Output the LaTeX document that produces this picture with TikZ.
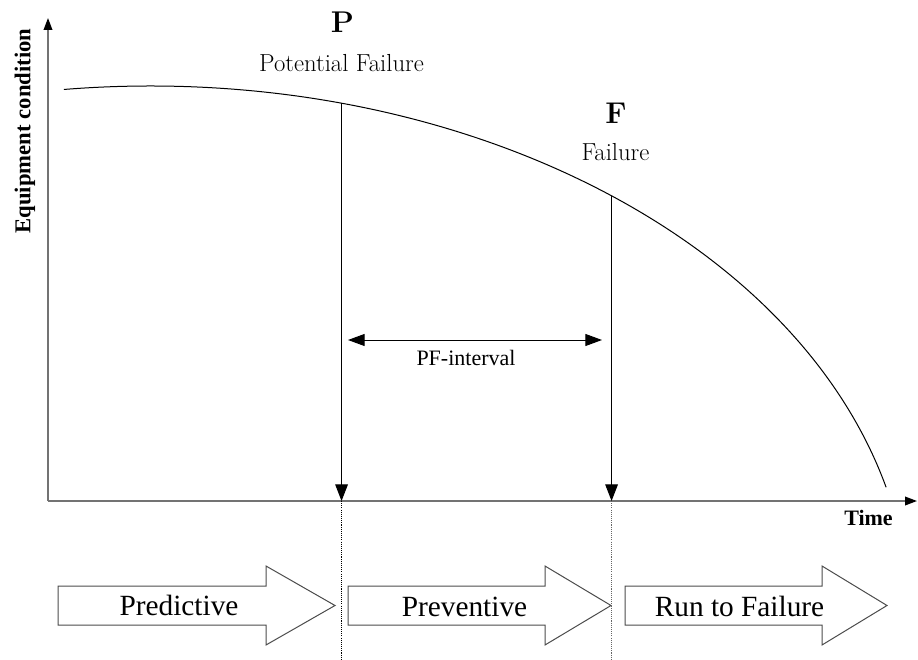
\documentclass[tikz,border=0pt]{standalone}
\usepackage{amsmath}
\usepackage{fontspec}
\usepackage{tikz}
\usetikzlibrary{arrows.meta,calc}
\newfontfamily\timesfont{Liberation Serif}

\begin{document}
\begin{tikzpicture}[x=0.75pt,y=0.75pt,yscale=-1,xscale=1,
    axisline/.style={draw=black!55, line width=1.1pt, -{Triangle[length=9pt,width=6.5pt,color=black]}},
    dropline/.style={line width=0.75pt, -{Triangle[length=12.5pt,width=9.5pt]}},
    pfline/.style={line width=0.75pt, {Triangle[length=12.5pt,width=9pt]}-{Triangle[length=12.5pt,width=9pt]}},
    guideline/.style={line width=0.6pt, dash pattern=on 0.8pt off 0.8pt},
    blockarrow/.style={draw=black!70, line width=0.75pt, fill=white},
    bigletter/.style={inner sep=0pt, anchor=base, font=\fontsize{22.5}{22.5}\selectfont\bfseries},
    pointname/.style={inner sep=0pt, anchor=base, font=\fontsize{18.5}{18.5}\selectfont},
    axisname/.style={inner sep=0pt, font=\timesfont\fontsize{17}{17}\selectfont\bfseries},
    phasename/.style={inner sep=0pt, anchor=base, font=\timesfont\fontsize{22}{22}\selectfont}]
    \useasboundingbox (0,0) rectangle (918,660);

    %Axes
    \coordinate (origin) at (48,501);
    \coordinate (ytop) at (48,18);
    \coordinate (xend) at (917,501);
    \draw[axisline] (origin) -- (ytop);
    \draw[axisline] (origin) -- (xend);

    %Condition curve (quarter of an ellipse)
    \coordinate (c) at (150,620);
    \draw[line width=0.75pt] ($(c)+(-96.5:760 and 534)$) arc[start angle=-96.5, end angle=-14.4, x radius=760, y radius=534];
    \coordinate (P) at ($(c)+(-75.4:760 and 534)$);
    \coordinate (F) at ($(c)+(-52.6:760 and 534)$);

    %Drop lines
    \draw[dropline] (P) -- (P |- origin);
    \draw[dropline] (F) -- (F |- origin);
    \coordinate (Pbot) at ($(P |- origin)+(0,160)$);
    \coordinate (Fbot) at ($(F |- origin)+(0,160)$);
    \draw[guideline] (P |- origin) -- (Pbot);
    \draw[guideline, black!60] (F |- origin) -- (Fbot);

    %PF interval
    \coordinate (pfL) at (348,340);
    \coordinate (pfR) at (602,340);
    \draw[pfline] (pfL) -- (pfR);

    %Phase arrows
    \foreach \xa/\xb/\xc in {58/266/335, 348/545/611, 625/822/887}{
        \draw[blockarrow] (\xa,586) -- (\xb,586) -- (\xb,566) -- (\xc,605.5) -- (\xb,645) -- (\xb,625) -- (\xa,625) -- cycle;
    }

    % Text Node
    \node[bigletter] (Plabel) at (342.5,33) {P};
    % Text Node
    \node[pointname] (Pname) at (341.5,72) {Potential Failure};
    % Text Node
    \node[bigletter] (Flabel) at (616,123) {F};
    % Text Node
    \node[pointname] (Fname) at (615.5,161) {Failure};
    % Text Node
    \node[inner sep=0pt, anchor=base, font=\timesfont\fontsize{16.5}{16.5}\selectfont] (pfname) at (466,365) {PF-interval};
    % Text Node
    \node[axisname, rotate=90] (yname) at (25,131) {Equipment condition};
    % Text Node
    \node[axisname, anchor=base, font=\timesfont\fontsize{16.5}{16.5}\selectfont\bfseries] (xname) at (868.5,525) {Time};
    % Text Node
    \node[phasename] (predictive) at (179,615) {Predictive};
    % Text Node
    \node[phasename] (preventive) at (464.5,616) {Preventive};
    % Text Node
    \node[phasename] (runfail) at (739.5,616) {Run to Failure};
\end{tikzpicture}
\end{document}
